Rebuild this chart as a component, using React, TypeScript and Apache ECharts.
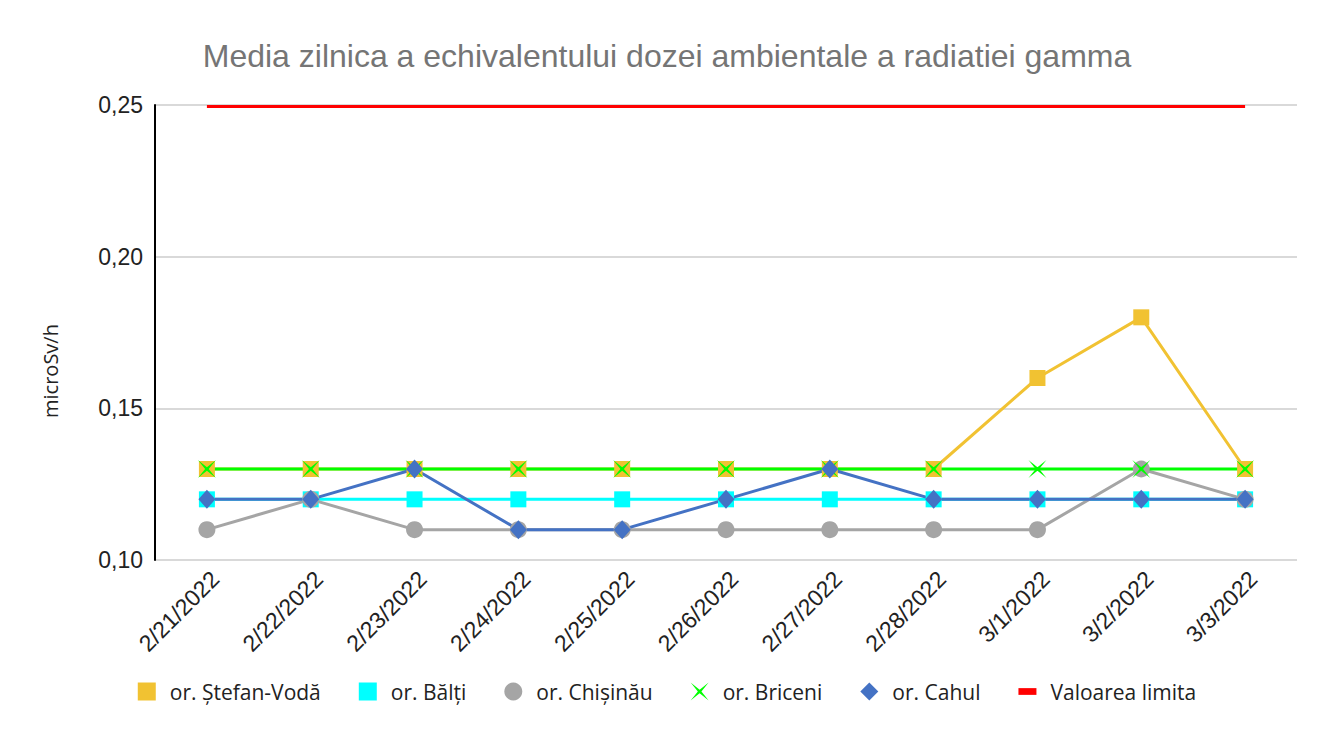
import React, { useEffect, useRef } from "react";
import * as echarts from "echarts";

const categories = [
  "2/21/2022", "2/22/2022", "2/23/2022", "2/24/2022", "2/25/2022", "2/26/2022",
  "2/27/2022", "2/28/2022", "3/1/2022", "3/2/2022", "3/3/2022",
];
const stefanVoda = [0.13, 0.13, 0.13, 0.13, 0.13, 0.13, 0.13, 0.13, 0.16, 0.18, 0.13];
const balti = [0.12, 0.12, 0.12, 0.12, 0.12, 0.12, 0.12, 0.12, 0.12, 0.12, 0.12];
const chisinau = [0.11, 0.12, 0.11, 0.11, 0.11, 0.11, 0.11, 0.11, 0.11, 0.13, 0.12];
const briceni = [0.13, 0.13, 0.13, 0.13, 0.13, 0.13, 0.13, 0.13, 0.13, 0.13, 0.13];
const cahul = [0.12, 0.12, 0.13, 0.11, 0.11, 0.12, 0.13, 0.12, 0.12, 0.12, 0.12];
const limit = [0.2495, 0.2495, 0.2495, 0.2495, 0.2495, 0.2495, 0.2495, 0.2495, 0.2495, 0.2495, 0.2495];

const seriesNames = ["or. Ștefan-Vodă", "or. Bălți", "or. Chișinău", "or. Briceni", "or. Cahul", "Valoarea limita"];
const colors = ["#F1C232", "#00FFFF", "#A5A5A5", "#00FF00", "#4472C4", "#FF0000"];
const yAxisTitle = "microSv/h";

const xPath = "path://M0,0 L5,4 L10,0 L6,5 L10,10 L5,6 L0,10 L4,5 Z";

export default function App() {
  const ref = useRef<HTMLDivElement>(null);
  useEffect(() => {
    document.body.style.margin = "0";
    const chart = echarts.init(ref.current!, null, { renderer: "svg" });
    const mk = (i: number, data: number[], symbol: string, size: any, showSymbol = true) => ({
      name: seriesNames[i],
      type: "line",
      data,
      symbol,
      symbolSize: size,
      showSymbol,
      lineStyle: { color: colors[i], width: 3 },
      itemStyle: { color: colors[i] },
      emphasis: { disabled: true },
    });
    chart.setOption({
      animation: false,
      backgroundColor: "#fff",
      title: {
        text: "Media zilnica a echivalentului dozei ambientale a radiatiei gamma",
        left: "center",
        top: 35,
        textStyle: { fontFamily: "Liberation Sans, Arial", fontSize: 32, fontWeight: "normal", color: "#757575" },
      },
      graphic: [
        {
          type: "text",
          x: 50,
          y: 371,
          rotation: Math.PI / 2,
          style: {
            text: yAxisTitle,
            fontFamily: "Open Sans, Noto Sans",
            fontSize: 20,
            fill: "#222",
            align: "center",
            verticalAlign: "middle",
          },
        },
      ],
      grid: { left: 155, right: 37, top: 105, bottom: 182 },
      legend: {
        bottom: 35,
        left: "center",
        itemGap: 38,
        itemWidth: 18,
        itemHeight: 18,
        textStyle: { fontFamily: "Open Sans, Noto Sans", fontSize: 21, color: "#222", padding: [0, 0, 0, 9] },
        data: [
          { name: seriesNames[0], icon: "rect", itemStyle: { color: colors[0] } },
          { name: seriesNames[1], icon: "rect", itemStyle: { color: colors[1] } },
          { name: seriesNames[2], icon: "circle" },
          { name: seriesNames[3], icon: xPath },
          { name: seriesNames[4], icon: "diamond" },
          { name: seriesNames[5], icon: "path://M0,0 L24,0 L24,9 L0,9 Z" },
        ],
      },
      xAxis: {
        type: "category",
        data: categories,
        boundaryGap: true,
        axisLine: { show: false },
        axisTick: { show: false },
        axisLabel: {
          rotate: 45,
          margin: 7,
          verticalAlign: "top",
          fontFamily: "Liberation Sans, Arial",
          fontSize: 23,
          color: "#222",
        },
      },
      yAxis: {
        type: "value",
        min: 0.1,
        max: 0.25,
        interval: 0.05,
        axisLine: { show: true, lineStyle: { color: "#000", width: 2 } },
        axisTick: { show: false },
        splitLine: { lineStyle: { color: "#CCCCCC", width: 1.5 } },
        axisLabel: {
          margin: 12,
          fontFamily: "Liberation Sans, Arial",
          fontSize: 23,
          color: "#222",
          formatter: (v: number) => v.toFixed(2).replace(".", ","),
        },
      },
      series: [
        mk(0, stefanVoda, "rect", 16),
        mk(1, balti, "rect", 16),
        mk(2, chisinau, "circle", 17),
        mk(3, briceni, xPath, 18),
        mk(4, cahul, "diamond", [17, 19]),
        mk(5, limit, "none", 0, false),
      ],
    });
    return () => chart.dispose();
  }, []);
  return <div ref={ref} style={{ width: 1334, height: 742 }} />;
}
